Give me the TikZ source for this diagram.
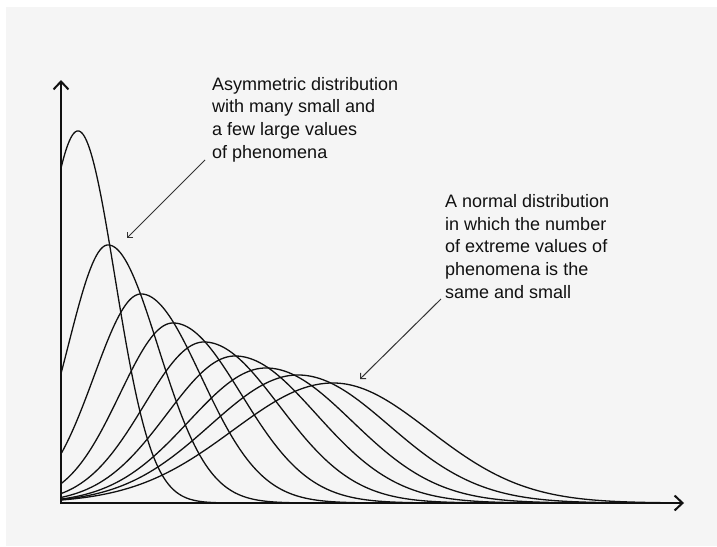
\documentclass[tikz,border=0pt]{standalone}
\usepackage{fontspec}
\setmainfont{Liberation Sans}
\usetikzlibrary{arrows.meta}
\definecolor{bggray}{HTML}{F5F5F5}
\definecolor{ink}{HTML}{111111}
\definecolor{noteink}{HTML}{333333}
\tikzset{
  axisline/.style={line width=2pt, draw=ink, -{Straight Barb[length=8pt,width=15pt]}},
  curveline/.style={line width=1.3pt, draw=ink},
  noteline/.style={line width=1pt, draw=noteink, -{Straight Barb[length=4pt,width=8pt]}},
  notetext/.style={inner sep=0pt, anchor=base west, align=left, text=ink,
    font=\fontsize{18}{22.6}\selectfont}
}
\begin{document}
\begin{tikzpicture}[x=1pt,y=-1pt]
\useasboundingbox (0,0) rectangle (717,546);
\fill[bggray] (6,7) rectangle (717,546);
% curves: mean / left sigma / right sigma / height
\foreach \m/\sl/\sr/\h in {78/37/37/372, 108/40/50/258, 141/47/60/209, 173/53/68/180, 204/60/75/161, 235/68/81/147, 266/77/86/135, 298/88/91/128, 333/100/96/120} {
  \pgfmathsetmacro\lo{max(61,\m-4*\sl)}
  \pgfmathsetmacro\hi{min(683,\m+4*\sr)}
  \draw[curveline] plot[domain=\lo:\hi, samples=180, smooth]
    (\x, {503-\h*exp(-0.5*((\x-\m)/ifthenelse(\x<\m,\sl,\sr))^2)});
}
% axes
\coordinate (O) at (61,504);
\coordinate (ytip) at (61,80);
\coordinate (xtip) at (684,503);
\draw[axisline] (61,504) -- (ytip);
\draw[axisline] (60,503) -- (xtip);
% texts (anchored at the baseline of the last line)
\node[notetext] (asym) at (212,158) {Asymmetric distribution\\with many small and\\a few large values\\of phenomena};
\node[notetext] (norm) at (445,298) {A normal distribution\\in which the number\\of extreme values of\\phenomena is the\\same and small};
% annotation arrows
\coordinate (a1s) at (205,160);
\coordinate (a1e) at (127,238);
\coordinate (a2s) at (441,299);
\coordinate (a2e) at (360,379);
\draw[noteline] (a1s) -- (a1e);
\draw[noteline] (a2s) -- (a2e);
\end{tikzpicture}
\end{document}
